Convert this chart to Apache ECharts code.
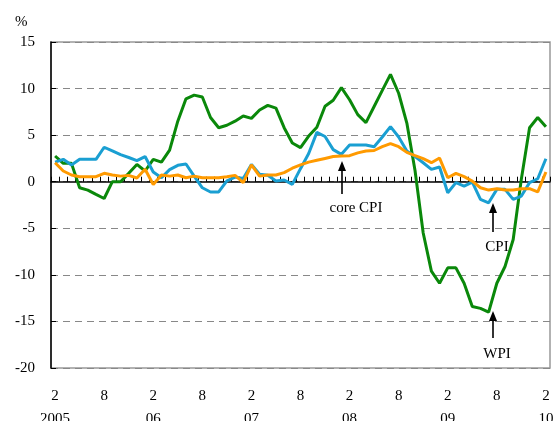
<!DOCTYPE html>
<html>
<head>
<meta charset="utf-8">
<script src="https://cdn.jsdelivr.net/npm/echarts@6/dist/echarts.min.js"></script>
<style>html,body{margin:0;padding:0;background:#fff}#c{width:556px;height:421px}</style>
</head>
<body>
<div id="c"></div>
<script>
// monthly, Feb 2005 .. Feb 2010
var months = [];
(function(){ for (var k = 0; k < 61; k++) { var m = (1 + k) % 12 + 1; var y = 2005 + Math.floor((1 + k) / 12); months.push(y + '-' + m); } })();

var tickLabels = {0:'2\n2005', 6:'8', 12:'2\n06', 18:'8', 24:'2\n07', 30:'8', 36:'2\n08', 42:'8', 48:'2\n09', 54:'8', 60:'2\n10'};

var wpi = [2.76,1.97,1.97,-0.65,-0.9,-1.36,-1.8,0,0,0.9,
           1.86,1.15,2.4,2.1,3.4,6.5,8.9,9.3,9.1,6.9,
           5.8,6.06,6.5,7.06,6.8,7.7,8.2,7.9,5.8,4.15,
           3.66,4.9,5.85,8.1,8.75,10.1,8.8,7.2,6.35,8.08,
           9.8,11.52,9.5,6.3,1.2,-5.5,-9.6,-10.9,-9.25,-9.25,
           -10.9,-13.4,-13.6,-14.0,-10.9,-9.1,-6.2,0.3,5.8,6.9,
           5.9];

var cpi = [2.1,2.4,1.8,2.4,2.4,2.4,3.7,3.3,2.9,2.6,
           2.26,2.7,1.04,0.43,1.3,1.76,1.9,0.6,-0.65,-1.1,
           -1.1,0.1,0.5,0.35,1.86,0.8,0.7,0.07,0.18,-0.29,
           1.4,3.03,5.3,4.85,3.45,2.94,3.94,3.94,3.94,3.76,
           4.8,5.92,4.8,3.3,2.7,2.04,1.33,1.58,-1.18,-0.1,
           -0.47,-0.04,-1.9,-2.26,-0.82,-0.82,-1.9,-1.54,-0.1,0.32,
           2.47];

var coreCpi = [2.04,1.15,0.72,0.54,0.54,0.54,0.9,0.72,0.6,0.68,
               0.4,1.33,-0.29,0.72,0.6,0.72,0.43,0.6,0.43,0.43,
               0.43,0.54,0.68,-0.1,1.8,0.6,0.72,0.72,0.97,1.45,
               1.8,2.1,2.3,2.5,2.7,2.75,2.8,3.1,3.3,3.35,
               3.76,4.1,3.76,3.15,2.8,2.47,2.04,2.54,0.43,0.9,
               0.54,0.07,-0.65,-0.9,-0.75,-0.9,-0.9,-0.75,-0.75,-1.1,
               1.04];

var yTicks = {min:-20, max:15, interval:5};

var serif = '"Liberation Serif","DejaVu Serif",serif';
var chart = echarts.init(document.getElementById('c'), null, {renderer:'canvas'});

function arrow(x, yTip, yBase) {
  return [
    {type:'line', shape:{x1:x, y1:yBase, x2:x, y2:yTip+8}, style:{stroke:'#000', lineWidth:1.6}, z:100},
    {type:'polygon', shape:{points:[[x, yTip],[x-4, yTip+10],[x+4, yTip+10]]}, style:{fill:'#000'}, z:100}
  ];
}
function label(txt, x, y) {
  return {type:'text', x:x, y:y, style:{text:txt, font:'15px ' + serif, fill:'#000', align:'center', verticalAlign:'middle'}, z:100};
}

var graphics = [].concat(
  [{type:'text', left:15, top:15, style:{text:'%', font:'15px ' + serif, fill:'#000'}}],
  arrow(342, 161, 194), [label('core CPI', 356, 208)],
  arrow(493, 203, 232), [label('CPI', 497, 247)],
  arrow(493, 311, 338), [label('WPI', 497, 354)]
);

chart.setOption({
  animation:false,
  backgroundColor:'#fff',
  grid:{left:51, top:42, right:6, bottom:53, containLabel:false, outerBoundsMode:'none',
        show:true, borderColor:'#999', borderWidth:1.5, backgroundColor:'transparent'},
  xAxis:[
    {type:'category', data:months, boundaryGap:true, position:'bottom',
     axisLine:{onZero:true, lineStyle:{color:'#000', width:1.5}},
     axisTick:{show:true, inside:true, interval:0, length:5, lineStyle:{color:'#000', width:1}},
     axisLabel:{show:false}, splitLine:{show:false}},
    {type:'category', data:months, boundaryGap:true, position:'bottom',
     axisLine:{show:false, onZero:false}, axisTick:{show:false},
     axisLabel:{show:true, interval:0, margin:17, lineHeight:23, color:'#000', fontFamily:serif, fontSize:15,
       formatter:function(v, i){ return tickLabels[i] !== undefined ? tickLabels[i] : ''; }},
     splitLine:{show:false}}
  ],
  yAxis:{type:'value', min:yTicks.min, max:yTicks.max, interval:yTicks.interval,
    axisLine:{show:true, onZero:false, lineStyle:{color:'#000', width:1.5}},
    axisTick:{show:true, inside:true, length:5, lineStyle:{color:'#000'}},
    axisLabel:{color:'#000', fontFamily:serif, fontSize:15, margin:16},
    splitLine:{show:true, lineStyle:{color:'#888', width:1, type:[7,5]}}},
  series:[
    {name:'WPI', type:'line', data:wpi, xAxisIndex:0, symbol:'none', lineStyle:{color:'#0a880a', width:3}, z:3},
    {name:'CPI', type:'line', data:cpi, xAxisIndex:0, symbol:'none', lineStyle:{color:'#1a9fd2', width:3}, z:4},
    {name:'core CPI', type:'line', data:coreCpi, xAxisIndex:0, symbol:'none', lineStyle:{color:'#ff9a00', width:3}, z:5}
  ],
  graphic:graphics
});
</script>
</body>
</html>
